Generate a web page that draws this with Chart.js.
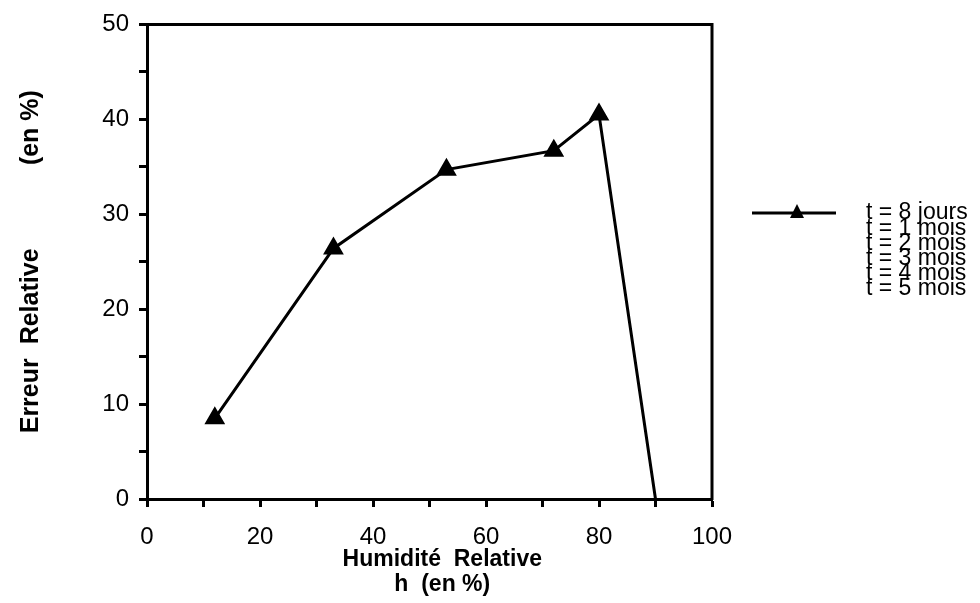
<!DOCTYPE html>
<html>
<head>
<meta charset="utf-8">
<script src="https://cdn.jsdelivr.net/npm/chart.js@4"></script>
<style>
  body { margin: 0; background: #fff; }
  canvas { display: block; }
</style>
</head>
<body>
<canvas id="humidity-chart" width="980" height="603"></canvas>
<script>
const humidity = [12, 33, 53, 72, 80, 90];
const relativeError = [8.5, 26.4, 34.7, 36.7, 40.5, 0];
const pointSizes = [9, 9, 9, 9, 9, 0];
const seriesLabels = ['t = 8 jours', 't = 1 mois', 't = 2 mois', 't = 3 mois', 't = 4 mois', 't = 5 mois'];
const xLabelTicks = [0, 20, 40, 60, 80, 100];
const yLabelTicks = [0, 10, 20, 30, 40, 50];

const fontFamily = "'Liberation Sans', Arial, Helvetica, sans-serif";

// top + right border of the box
const framePlugin = {
  id: 'frame',
  afterDraw(chart) {
    const ctx = chart.ctx;
    const area = chart.chartArea;
    ctx.save();
    ctx.strokeStyle = '#000';
    ctx.lineWidth = 3;
    ctx.beginPath();
    ctx.moveTo(area.left - 8, area.top);
    ctx.lineTo(area.right, area.top);
    ctx.lineTo(area.right, area.bottom + 1);
    ctx.stroke();
    ctx.restore();
  }
};

// legend drawn by hand: one sample line, then all labels stacked tight
const legendPlugin = {
  id: 'sideLegend',
  afterDraw(chart) {
    const ctx = chart.ctx;
    const area = chart.chartArea;
    const x0 = area.right + 40;
    const y0 = 213;
    ctx.save();
    ctx.strokeStyle = '#000';
    ctx.lineWidth = 3;
    ctx.beginPath();
    ctx.moveTo(x0, y0);
    ctx.lineTo(x0 + 84, y0);
    ctx.stroke();
    ctx.fillStyle = '#000';
    ctx.beginPath();
    ctx.moveTo(x0 + 45, y0 - 9);
    ctx.lineTo(x0 + 52, y0 + 5);
    ctx.lineTo(x0 + 38, y0 + 5);
    ctx.closePath();
    ctx.fill();
    ctx.font = '23px ' + fontFamily;
    ctx.textBaseline = 'middle';
    seriesLabels.forEach(function(label, i) {
      ctx.fillText(label, x0 + 114, y0 + i * 15.2);
    });
    ctx.restore();
  }
};

const container = document.getElementById('humidity-chart');
new Chart(container, {
  type: 'line',
  data: {
    datasets: [{
      label: seriesLabels[0],
      data: humidity.map(function(h, i) { return { x: h, y: relativeError[i] }; }),
      borderColor: '#000',
      backgroundColor: '#000',
      borderWidth: 3,
      pointStyle: 'triangle',
      pointRadius: pointSizes,
      pointHoverRadius: pointSizes,
      tension: 0
    }]
  },
  options: {
    responsive: false,
    animation: false,
    layout: {
      padding: { left: 0, top: 21, right: 268, bottom: 0 }
    },
    plugins: {
      legend: { display: false },
      tooltip: { enabled: false }
    },
    scales: {
      x: {
        type: 'linear',
        min: 0,
        max: 100,
        afterFit: function(scale) { scale.height = 104; },
        ticks: {
          stepSize: 10,
          autoSkip: false,
          maxRotation: 0,
          padding: 16,
          color: '#000',
          font: { family: fontFamily, size: 24 },
          callback: function(value) {
            return xLabelTicks.includes(value) ? value : '';
          }
        },
        grid: {
          drawOnChartArea: false,
          drawTicks: true,
          tickLength: 8,
          tickWidth: 3,
          color: '#000'
        },
        border: { display: true, color: '#000', width: 3 },
        title: {
          display: true,
          text: ['    Humidité  Relative', '    h  (en %)'],
          color: '#000',
          font: { family: fontFamily, size: 23, weight: 'bold', lineHeight: '25px' },
          padding: { top: 0, bottom: 6 }
        }
      },
      y: {
        min: 0,
        max: 50,
        afterFit: function(scale) { scale.width = 147; },
        ticks: {
          stepSize: 5,
          autoSkip: false,
          padding: 10,
          color: '#000',
          font: { family: fontFamily, size: 24 },
          callback: function(value) {
            return yLabelTicks.includes(value) ? value : '';
          }
        },
        grid: {
          drawOnChartArea: false,
          drawTicks: true,
          tickLength: 8,
          tickWidth: 3,
          color: '#000'
        },
        border: { display: true, color: '#000', width: 3 },
        title: {
          display: true,
          text: 'Erreur  Relative            (en %)',
          color: '#000',
          font: { family: fontFamily, size: 25, weight: 'bold' },
          padding: { top: 16, bottom: 0 }
        }
      }
    }
  },
  plugins: [framePlugin, legendPlugin]
});
</script>
</body>
</html>
